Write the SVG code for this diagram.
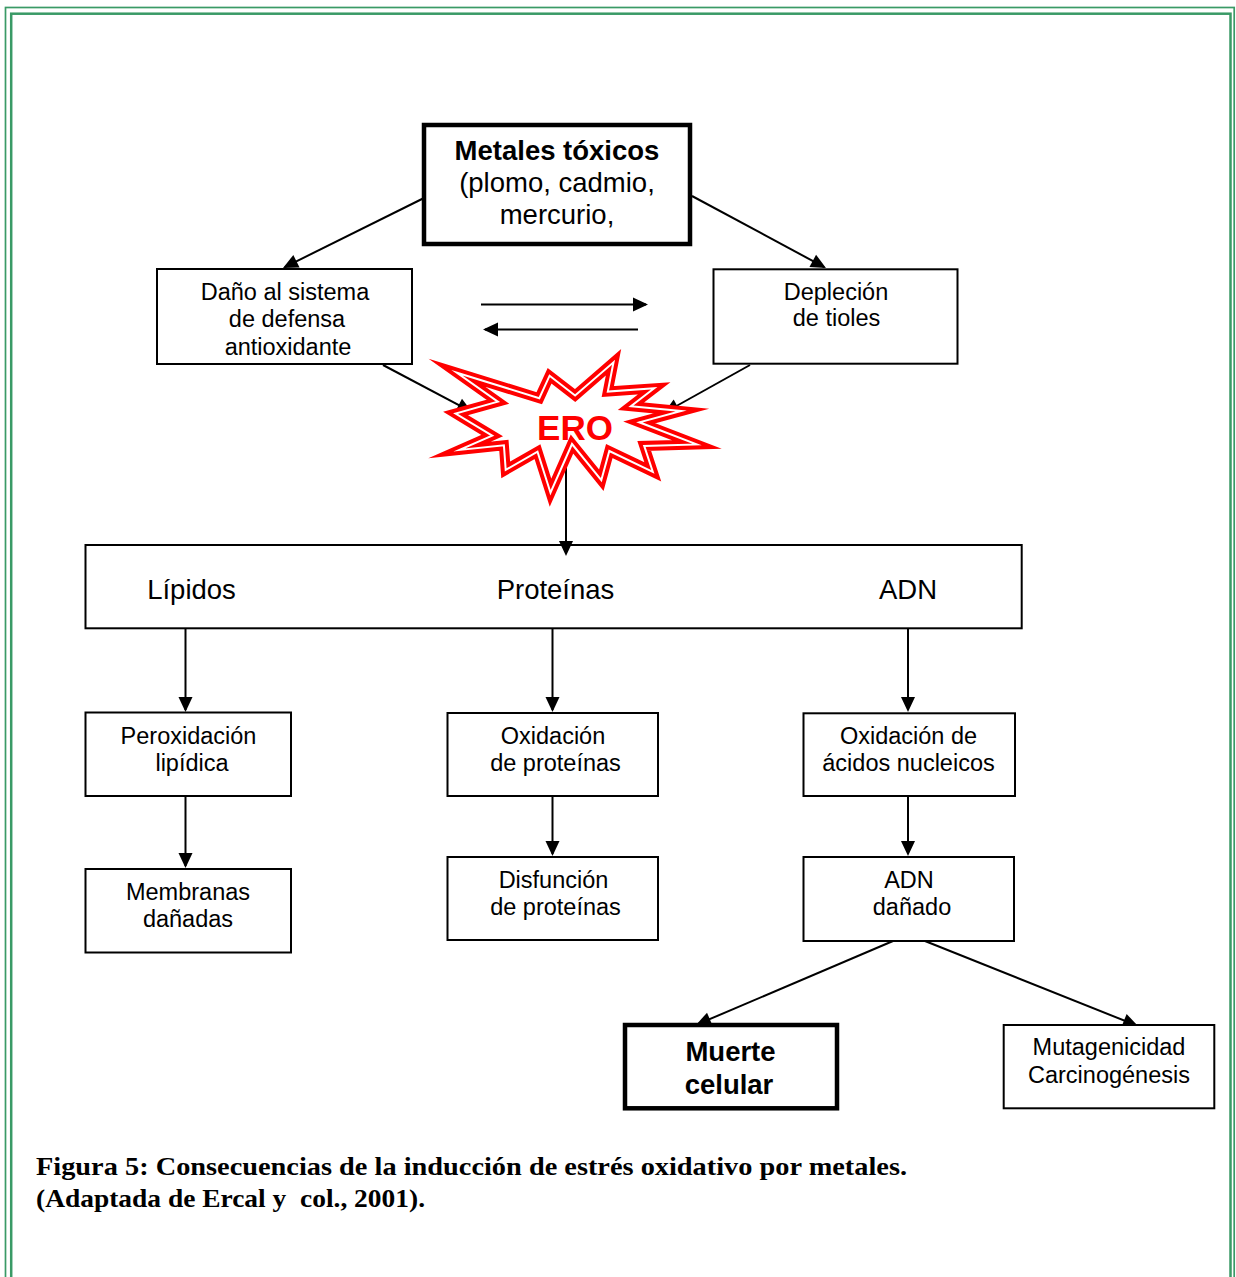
<svg xmlns="http://www.w3.org/2000/svg" width="1236" height="1277" viewBox="0 0 1236 1277">
<style>
.box{fill:#fff;stroke:#000;stroke-width:2}
.thick{stroke-width:4.5}
.open{fill:none;stroke:#000;stroke-width:2}
.t{font-family:"Liberation Sans",Arial,sans-serif;font-size:23.5px;fill:#000;text-anchor:middle}
.tl{font-family:"Liberation Sans",Arial,sans-serif;font-size:27.5px;fill:#000;text-anchor:middle}
.b{font-weight:bold}
.cap{font-family:"Liberation Serif","Times New Roman",serif;font-size:25px;font-weight:bold;fill:#000}
.c{stroke:#000;stroke-width:2;fill:none;marker-end:url(#ah)}
.frame{fill:none;stroke:#3a9a66}
.star{fill:none;stroke-linejoin:miter;stroke-miterlimit:30}
</style>
<defs>
<marker id="ah" markerUnits="userSpaceOnUse" markerWidth="15" markerHeight="14" refX="13" refY="7" orient="auto" overflow="visible">
<path d="M0,0 L15,7 L0,14 z" fill="#000"/>
</marker>
<polygon id="starshape" points="457,372.8 539.3,398.2 549.6,375.7 575.1,395.5 613.5,362.3 607.8,391.6 654.2,388.3 630.9,406.2 681.2,411 639.3,422.3 696.7,444.4 644.2,445.9 652.8,471.8 609.3,451 601.3,480.2 572,444 550.5,492.7 537.5,451.7 505.7,469.9 503.9,445.3 459.6,449.9 492.2,435.6 455.6,413.5 497.8,401.7"/>
</defs>
<rect width="1236" height="1277" fill="#fff"/>
<g id="frame">
<rect class="frame" x="5.5" y="7.5" width="1228.7" height="1290" stroke-width="1.7"/>
<rect class="frame" x="11.2" y="13.7" width="1219.3" height="1290" stroke-width="2.5"/>
</g>
<g id="connectors">
<line class="c" x1="426" y1="197" x2="284.8" y2="267.1"/>
<line class="c" x1="692" y1="196" x2="824.2" y2="267.1"/>
<line class="c" x1="481" y1="304.5" x2="646" y2="304.5"/>
<line class="c" x1="638" y1="329.5" x2="485" y2="329.5"/>
<line class="c" x1="383" y1="365" x2="470.2" y2="411.1"/>
<line class="c" x1="750" y1="365" x2="665.7" y2="412"/>
<line class="c" x1="566" y1="460" x2="566" y2="554"/>
<line class="c" x1="185.5" y1="629" x2="185.5" y2="710"/>
<line class="c" x1="185.5" y1="797" x2="185.5" y2="866"/>
<line class="c" x1="552.5" y1="629" x2="552.5" y2="710"/>
<line class="c" x1="552.5" y1="797" x2="552.5" y2="854"/>
<line class="c" x1="908" y1="629" x2="908" y2="710"/>
<line class="c" x1="908" y1="797" x2="908" y2="854"/>
<line class="c" x1="893" y1="941" x2="697.8" y2="1024.2"/>
<line class="c" x1="925" y1="941" x2="1136.1" y2="1025.3"/>
</g>
<g id="metales">
<rect class="box thick" x="424" y="125" width="266" height="119"/>
<text class="tl b" x="557" y="160">Metales tóxicos</text>
<text class="tl" x="557" y="192">(plomo, cadmio,</text>
<text class="tl" x="557" y="224">mercurio,</text>
</g>
<g id="dano">
<rect class="box" x="157" y="269" width="255" height="95"/>
<text class="t" x="285" y="300">Daño al sistema</text>
<text class="t" x="287" y="327">de defensa</text>
<text class="t" x="288" y="355">antioxidante</text>
</g>
<g id="deplecion">
<rect class="box" x="713.5" y="269.3" width="244" height="94.4"/>
<text class="t" x="836" y="300">Depleción</text>
<text class="t" x="836.5" y="326">de tioles</text>
</g>
<g id="ero">
<use href="#starshape" class="star" stroke="#f00" stroke-width="10"/>
<use href="#starshape" class="star" stroke="#fff" stroke-width="2"/>
<text x="575" y="440" font-family="'Liberation Sans',Arial,sans-serif" font-size="35" font-weight="bold" fill="#f00" text-anchor="middle">ERO</text>
</g>
<g id="moleculas">
<rect class="open" x="85.5" y="545" width="936.2" height="83.3"/>
<text class="tl" x="191.5" y="599">Lípidos</text>
<text class="tl" x="555.5" y="599">Proteínas</text>
<text class="tl" x="908" y="599">ADN</text>
</g>
<g id="peroxidacion">
<rect class="box" x="85.5" y="712.5" width="205.5" height="83.5"/>
<text class="t" x="188.5" y="744">Peroxidación</text>
<text class="t" x="192" y="771">lipídica</text>
</g>
<g id="membranas">
<rect class="box" x="85.5" y="869" width="205.5" height="83.5"/>
<text class="t" x="188" y="900">Membranas</text>
<text class="t" x="188" y="927">dañadas</text>
</g>
<g id="oxidacion-proteinas">
<rect class="box" x="447.5" y="713" width="210.5" height="83"/>
<text class="t" x="553" y="744">Oxidación</text>
<text class="t" x="555.5" y="771">de proteínas</text>
</g>
<g id="disfuncion">
<rect class="box" x="447.5" y="857" width="210.5" height="83"/>
<text class="t" x="553.5" y="888">Disfunción</text>
<text class="t" x="555.5" y="915">de proteínas</text>
</g>
<g id="oxidacion-acidos">
<rect class="box" x="803.5" y="713.3" width="211.5" height="82.7"/>
<text class="t" x="908.5" y="744">Oxidación de</text>
<text class="t" x="908.5" y="771">ácidos nucleicos</text>
</g>
<g id="adn-danado">
<rect class="box" x="803.5" y="857" width="210.5" height="84"/>
<text class="t" x="909" y="888">ADN</text>
<text class="t" x="912" y="915">dañado</text>
</g>
<g id="muerte">
<rect class="box thick" x="625" y="1025" width="212" height="83.3"/>
<text class="tl b" x="730.5" y="1061">Muerte</text>
<text class="tl b" x="729" y="1094">celular</text>
</g>
<g id="mutagenicidad">
<rect class="box" x="1003.7" y="1025" width="210.6" height="83.3"/>
<text class="t" x="1109" y="1055">Mutagenicidad</text>
<text class="t" x="1109" y="1083">Carcinogénesis</text>
</g>
<g id="caption">
<text class="cap" x="36" y="1175" textLength="871" lengthAdjust="spacingAndGlyphs">Figura 5: Consecuencias de la inducción de estrés oxidativo por metales.</text>
<text class="cap" x="36" y="1207" textLength="389" lengthAdjust="spacingAndGlyphs" xml:space="preserve">(Adaptada de Ercal y  col., 2001).</text>
</g>
</svg>
